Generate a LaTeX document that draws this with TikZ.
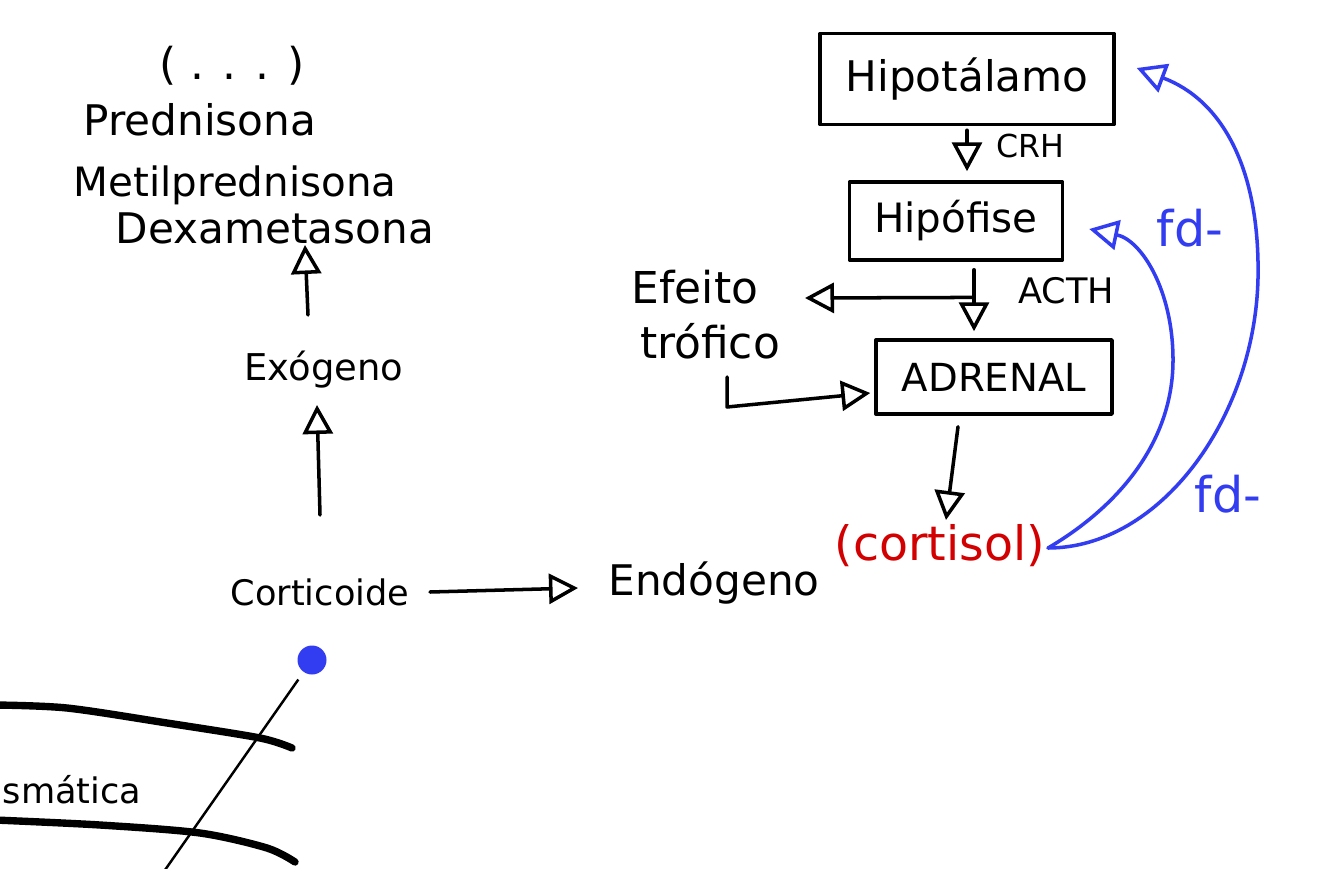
\documentclass[tikz,border=0pt]{standalone}
\usepackage{fontspec}
\setmainfont{DejaVu Sans}
\usetikzlibrary{arrows.meta}
\definecolor{penred}{RGB}{210,0,0}
\definecolor{penblue}{RGB}{50,60,240}
\tikzset{
  ink/.style={line width=2pt, line cap=round, line join=round},
  arr/.style={ink, -{Triangle[open, length=0.58cm, width=0.6cm]}},
  txt/.style={font=\fontsize{#1}{#1}\selectfont, anchor=base, inner sep=2pt},
  organ/.style={draw, ink, font=\fontsize{#1}{#1}\selectfont, inner sep=0pt}
}

\begin{document}
\begin{tikzpicture}[x=0.02cm,y=-0.02cm]
\fill[white] (0,0) rectangle (1334,868);
\useasboundingbox (0,0) rectangle (1334,868);

\node[txt=25] (dots) at (232,80) {( . . . )};
\node[txt=24] (pred) at (200,136) {Prednisona};
\node[txt=23] (metil) at (235,196) {Metilprednisona};
\node[txt=24] (dexa) at (275,243) {Dexametasona};
\node[txt=21] (exo) at (324,380) {Exógeno};
\node[txt=20] (cort) at (320,605) {Corticoide};
\node[txt=24] (endo) at (714,595) {Endógeno};
\node[txt=27, text=penred] (cortisol) at (940,560) {(cortisol)};

\node[organ=24, minimum width=5.88cm, minimum height=1.82cm] (hipot) at (967,79) {Hipotálamo};
\node[organ=23, minimum width=4.26cm, minimum height=1.56cm] (hipof) at (956,221) {Hipófise};
\node[organ=22, minimum width=4.72cm, minimum height=1.48cm] (adrenal) at (994,377) {ADRENAL};
\node[txt=18] (crh) at (1030,158) {CRH};
\node[txt=20] (acth) at (1066,303) {ACTH};
\node[txt=25] (efeito) at (695,303) {Efeito};
\node[txt=25] (trofico) at (710,358) {trófico};
\node[txt=28, text=penblue] (fd1) at (1190,246) {fd-};
\node[txt=28, text=penblue] (fd2) at (1228,512) {fd-};
\node[txt=20] (smat) at (72,803) {smática};

\node[circle, fill=penblue, minimum size=0.58cm, inner sep=0pt] (dot) at (312,660) {};
\coordinate (stalk) at (158,880);

\draw[arr] ([shift={(-16,-65)}]exo.base) -- ([shift={(30,2)}]dexa.base);
\draw[arr] ([shift={(0,-90)}]cort.base) -- ([shift={(-7,25)}]exo.base);
\draw[arr] ([shift={(110,-13)}]cort.base) -- ([shift={(-136,-7)}]endo.base);
\draw[arr] ([shift={(0,4)}]hipot.south) -- ([shift={(11,-9)}]hipof.north);
\draw[arr] ([shift={(18,8)}]hipof.south) -- coordinate[pos=0.45] (split) ([shift={(-20,-7)}]adrenal.north);
\draw[arr] (split) -- ([shift={(110,-5)}]efeito.base);
\draw[arr] ([shift={(17,19)}]trofico.base) -- ++(0,30) -- ([shift={(-4,16)}]adrenal.west);
\draw[arr] ([shift={(-36,11)}]adrenal.south) -- ([shift={(6,-40)}]cortisol.base);

\draw[arr, penblue] ([shift={(108,-12)}]cortisol.base) .. controls +(112,0) and +(-3,140) .. ++(210,-270) .. controls +(2,-110) and +(85,32) .. ([shift={(21,-11)}]hipot.east);
\draw[arr, penblue] ([shift={(108,-12)}]cortisol.base) .. controls +(73,-43) and +(0,80) .. ++(125,-188) .. controls +(0,-70) and +(52,11) .. ([shift={(25,8)}]hipof.east);

\draw[line width=1.4pt, shorten <=0.18cm] (dot) -- (stalk);
\draw[line width=4.2pt, line cap=round] plot[smooth] coordinates {(-5,705) (67,708) (167,723) (260,738) (292,748)};
\draw[line width=4.2pt, line cap=round] plot[smooth] coordinates {(-5,820) (100,825) (200,833) (267,848) (295,862)};
\end{tikzpicture}
\end{document}
